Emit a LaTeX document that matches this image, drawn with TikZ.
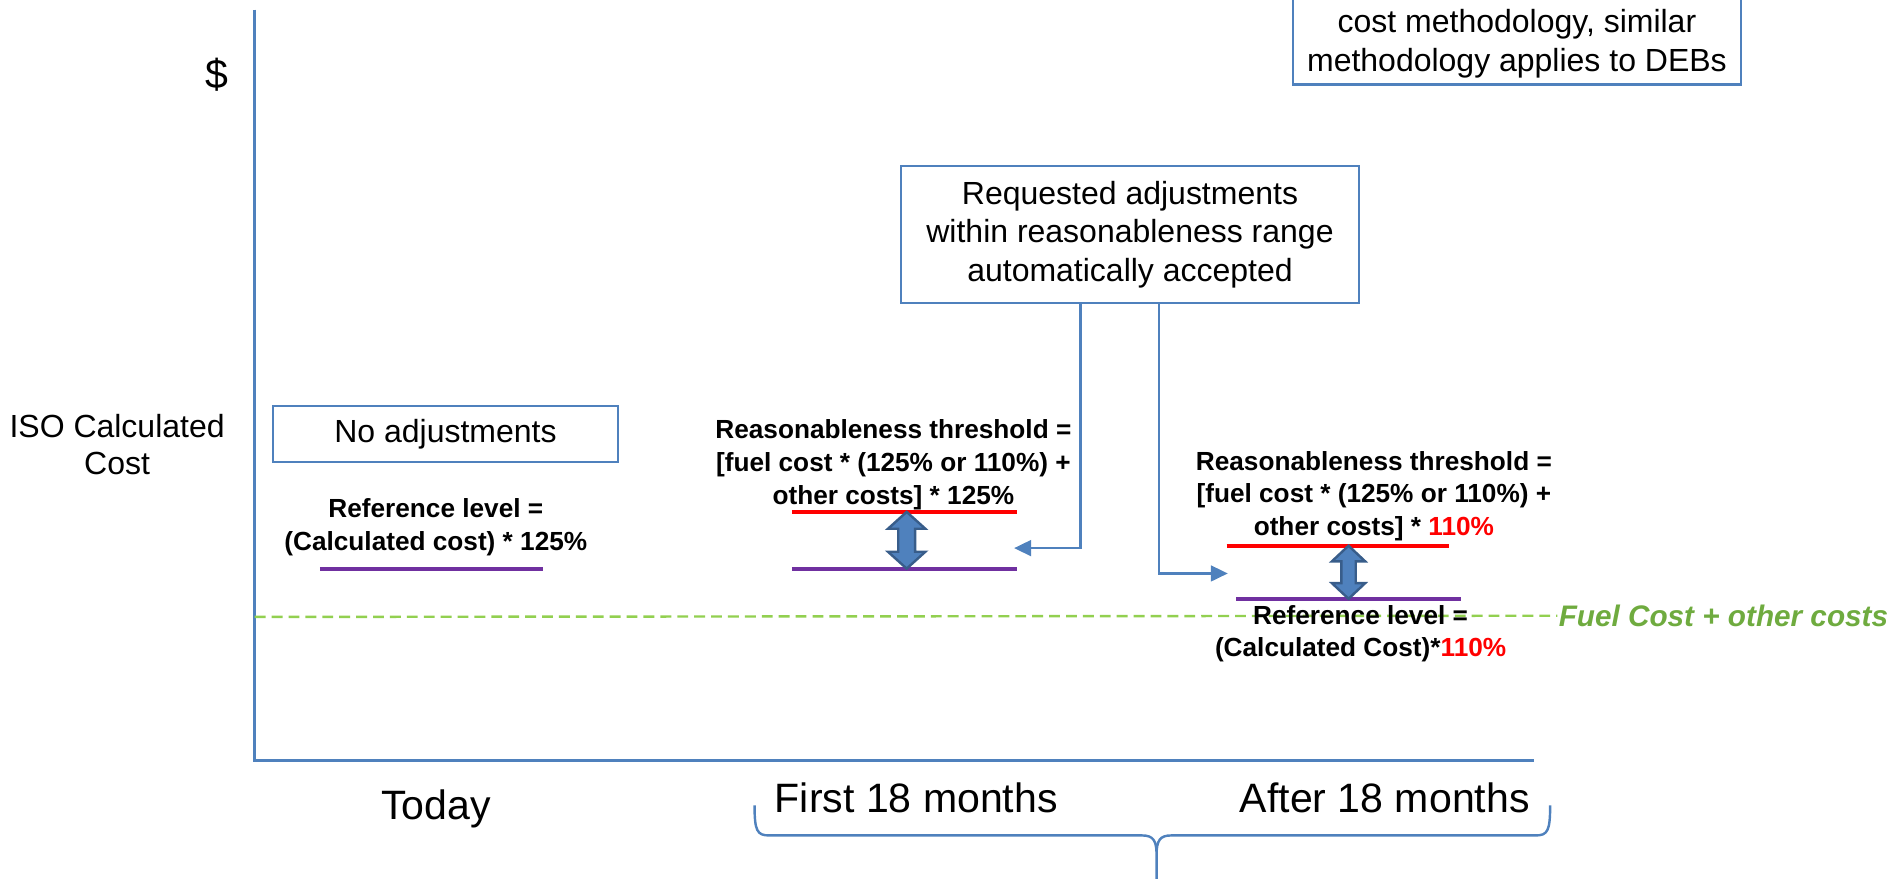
\documentclass[tikz,border=0pt]{standalone}
\usepackage{fontspec}
\setmainfont{Liberation Sans}
\usetikzlibrary{arrows.meta}

\definecolor{axisblue}{HTML}{4F81BD}
\definecolor{arrowblue}{HTML}{385D8A}
\definecolor{refpurple}{HTML}{7030A0}
\definecolor{fuelgreen}{HTML}{92D050}
\definecolor{fueltext}{HTML}{6FAB3F}

\begin{document}
\begin{tikzpicture}[x=1pt,y=-1pt,
  axis/.style={draw=axisblue,line width=2.5pt},
  textbox/.style={draw=axisblue,line width=1.7pt,align=center,font=\fontsize{26.5}{32}\selectfont},
  caption/.style={align=center,font=\fontsize{26.5}{31}\selectfont},
  formula/.style={align=center,font=\fontsize{21.7}{27}\selectfont\bfseries},
  period/.style={anchor=base,font=\fontsize{34}{40}\selectfont},
  level/.style={draw=#1,line width=3.3pt},
  dblarrow/.style={fill=axisblue,draw=arrowblue,line width=2pt,line join=miter},
  link/.style={draw=axisblue,line width=2pt,-{Triangle[length=14pt,width=13pt]}},
  brace/.style={draw=axisblue,line width=2pt}]

  % page size, everything outside is cut off
  \useasboundingbox (0,0) rectangle (1568,728);
  \clip (0,0) rectangle (1568,728);

  % draw axes
  \draw [axis] (211,8) -- (211,630) -- (1271,630);
  \node (dollar) [font=\fontsize{34}{40}\selectfont] at (180,62) {\$};
  \node (isocost) [caption] at (97,368) {ISO Calculated\\Cost};

  % fuel cost line
  \node (fuel) [anchor=west,inner xsep=1pt,text=fueltext,
    font=\fontsize{24.6}{30}\selectfont\bfseries\itshape] at (1290,510) {Fuel Cost + other costs};
  \draw [fuelgreen,line width=2pt,dash pattern=on 9pt off 5pt] (211,511) -- (fuel.west);

  % today
  \node (noadjust) [textbox,minimum width=286pt,minimum height=47pt] at (369,359.5) {No adjustments};
  \node (reftoday) [formula] at (361,436.5) {Reference level =\\(Calculated cost) * 125\%};
  \draw [level=refpurple] (265,471) -- (450,471);

  % first 18 months
  \node (reqbox) [textbox,minimum width=380pt,minimum height=113pt] at (936,194.3)
    {Requested adjustments\\within reasonableness range\\automatically accepted};
  \node (thrfirst) [formula] at (740,385)
    {Reasonableness threshold =\\{}[fuel cost * (125\% or 110\%) +\\other costs] * 125\%};
  \draw [level=red] (656,424) -- (842,424);
  \draw [level=refpurple] (656,471) -- (842,471);

  % after 18 months
  \node (thrafter) [formula] at (1138,411)
    {Reasonableness threshold =\\{}[fuel cost * (125\% or 110\%) +\\other costs] * \textcolor{red}{110\%}};
  \draw [level=red] (1016,452) -- (1200,452);
  \draw [level=refpurple] (1024,496) -- (1210,496);
  \node (refafter) [formula] at (1127,525) {Reference level =\\(Calculated Cost)*\textcolor{red}{110\%}};

  % double arrows between the levels
  \foreach \c/\ya/\yb/\h/\s/\l in {751/424/471/15.5/7/14, 1117/452/496/13.8/6/13} {
    \draw [dblarrow] (\c,\ya) -- (\c+\h,\ya+\l) -- (\c+\s,\ya+\l) -- (\c+\s,\yb-\l)
      -- (\c+\h,\yb-\l) -- (\c,\yb) -- (\c-\h,\yb-\l) -- (\c-\s,\yb-\l)
      -- (\c-\s,\ya+\l) -- (\c-\h,\ya+\l) -- cycle;
  }

  % connectors from the box
  \coordinate (tipfirst) at (840,454);
  \coordinate (tipafter) at (1017,475);
  \draw [link] ([xshift=-41pt]reqbox.south) |- (tipfirst);
  \draw [link] ([xshift=24pt]reqbox.south) |- (tipafter);

  % note box, cut by the top edge
  \node (debnote) [textbox,minimum width=371pt,minimum height=80pt,inner ysep=2pt] at (1256.5,30)
    {\mbox{}\\cost methodology, similar\\methodology applies to DEBs};

  % periods
  \node (today) [period] at (361,679) {Today};
  \node (first) [period] at (759,673) {First 18 months};
  \node (after) [period] at (1147,673) {After 18 months};

  % brace under the two periods
  \draw [brace] (625,667) .. controls (625,688) and (627,692) .. (637,692) -- (946,692)
    .. controls (955,692) and (958,696) .. (958,708) -- (958,735)
    (958,708) .. controls (958,696) and (961,692) .. (970,692) -- (1272,692)
    .. controls (1282,692) and (1284,688) .. (1284,667);

\end{tikzpicture}
\end{document}
